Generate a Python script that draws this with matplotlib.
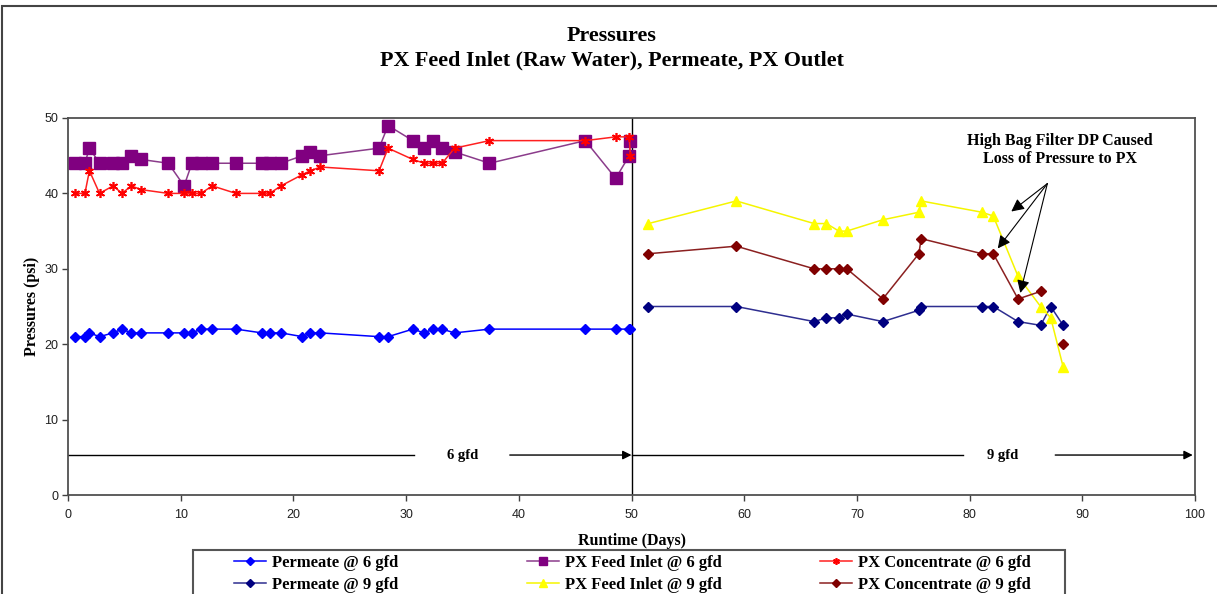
import numpy as np
import matplotlib
matplotlib.use("Agg")
import matplotlib.pyplot as plt
from matplotlib.patches import Rectangle

# ---------------- data ----------------
days_6 = [0.6, 1.5, 1.9, 2.8, 4.0, 4.8, 5.6, 6.5, 8.9, 10.3, 11.0, 11.8, 12.8, 14.9,
          17.2, 17.9, 18.9, 20.8, 21.5, 22.4, 27.6, 28.4, 30.6, 31.6, 32.4, 33.2,
          34.3, 37.4, 45.9, 48.6, 49.8, 49.9]
permeate_6 = [21, 21, 21.5, 21, 21.5, 22, 21.5, 21.5, 21.5, 21.5, 21.5, 22, 22, 22,
              21.5, 21.5, 21.5, 21, 21.5, 21.5, 21, 21, 22, 21.5, 22, 22,
              21.5, 22, 22, 22, 22, 22]
feed_6 = [44, 44, 46, 44, 44, 44, 45, 44.5, 44, 41, 44, 44, 44, 44,
          44, 44, 44, 45, 45.5, 45, 46, 49, 47, 46, 47, 46,
          45.5, 44, 47, 42, 45, 47]
conc_6 = [40, 40, 43, 40, 41, 40, 41, 40.5, 40, 40, 40, 40, 41, 40,
          40, 40, 41, 42.5, 43, 43.5, 43, 46, 44.5, 44, 44, 44,
          46, 47, 47, 47.5, 47.5, 45]

days_9 = [51.5, 59.3, 66.2, 67.3, 68.4, 69.1, 72.3, 75.5, 75.7, 81.1, 82.1,
          84.3, 86.3, 87.2, 88.3]
permeate_9 = [25, 25, 23, 23.5, 23.5, 24, 23, 24.5, 25, 25, 25, 23, 22.5, 25, 22.5]
feed_9 = [36, 39, 36, 36, 35, 35, 36.5, 37.5, 39, 37.5, 37, 29, 25, 23.5, 17]
conc_9 = [32, 33, 30, 30, 30, 30, 26, 32, 34, 32, 32, 26, 27, np.nan, 20]

series_labels = ["Permeate @ 6 gfd", "PX Feed Inlet @ 6 gfd", "PX Concentrate @ 6 gfd",
                 "Permeate @ 9 gfd", "PX Feed Inlet @ 9 gfd", "PX Concentrate @ 9 gfd"]

title_line1 = "Pressures"
title_line2 = "PX Feed Inlet (Raw Water), Permeate, PX Outlet"
note_text = "High Bag Filter DP Caused\nLoss of Pressure to PX"
note_origin = (86.9, 41.3)
note_targets = [(83.7, 37.6), (82.5, 32.7), (84.5, 26.8)]

# ---------------- style ----------------
SERIF = ["Liberation Serif", "DejaVu Serif"]
SANS = ["Liberation Sans", "DejaVu Sans"]

W, H = 1217, 594
fig = plt.figure(figsize=(W / 100, H / 100), dpi=100)
fig.patch.set_facecolor("white")

ax = fig.add_axes([68 / W, 1 - 495 / H, (1195 - 68) / W, (495 - 118) / H])

lw = 1.1
l_p6, = ax.plot(days_6, permeate_6, color="#0000FF", lw=lw, marker="D", ms=5, zorder=3)
l_f6, = ax.plot(days_6, feed_6, color="#8B3C8B", lw=lw, marker="s", ms=8.5,
                mfc="#800080", mec="#800080", zorder=3)
l_c6, = ax.plot(days_6, conc_6, color="#FF2020", lw=lw, marker=(6, 2, 0), ms=6.5,
                mec="#FF0000", mew=1.2, zorder=4)
l_p9, = ax.plot(days_9, permeate_9, color="#2E2E90", lw=lw, marker="D", ms=5,
                mfc="#000080", mec="#000080", zorder=3)
l_f9, = ax.plot(days_9, feed_9, color="#F5F500", lw=lw, marker="^", ms=7,
                mfc="#FFFF00", mec="#FFFF00", zorder=3)
l_c9, = ax.plot(days_9, conc_9, color="#8B2020", lw=lw, marker="D", ms=5,
                mfc="#800000", mec="#800000", zorder=3)

ax.set_xlim(0, 100)
ax.set_ylim(0, 50)
ax.set_xticks(np.arange(0, 101, 10))
ax.set_yticks(np.arange(0, 51, 10))
ax.tick_params(direction="out", length=4, width=1, colors="#404040",
               labelsize=9, labelcolor="#202020")
ax.tick_params(axis="x", pad=6)
ax.tick_params(axis="y", pad=3)
for lab in ax.get_xticklabels() + ax.get_yticklabels():
    lab.set_family(SANS)
for s in ax.spines.values():
    s.set_color("#505050")
    s.set_linewidth(1.3)

# divider at 50 days
ax.plot([50, 50], [0, 50], color="black", lw=1, zorder=2)

# gfd arrows
yarr = 5.3
arrow_kw = dict(arrowstyle="-|>", mutation_scale=13, color="black", lw=1,
                shrinkA=0, shrinkB=0)
ax.plot([0, 30.7], [yarr, yarr], color="black", lw=1)
ax.annotate("", xy=(50, yarr), xytext=(39.2, yarr), arrowprops=arrow_kw)
ax.text(35.0, yarr, "6 gfd", ha="center", va="center", fontsize=10.5,
        fontweight="bold", family=SERIF)
ax.plot([50, 79.4], [yarr, yarr], color="black", lw=1)
ax.annotate("", xy=(99.8, yarr), xytext=(87.6, yarr), arrowprops=arrow_kw)
ax.text(82.9, yarr, "9 gfd", ha="center", va="center", fontsize=10.5,
        fontweight="bold", family=SERIF)

# note with arrows
ax.text(88.0, 45.8, note_text, ha="center", va="center", fontsize=11.5,
        fontweight="bold", family=SERIF, linespacing=1.15)
for tgt in note_targets:
    ax.annotate("", xy=tgt, xytext=note_origin,
                arrowprops=dict(arrowstyle="-|>", mutation_scale=19, color="black",
                                lw=0.8, shrinkA=0, shrinkB=0))

ax.set_xlabel("Runtime (Days)", fontsize=11.5, fontweight="bold", family=SERIF)
ax.xaxis.set_label_coords(0.5, (495 - 533) / 377)
ax.set_ylabel("Pressures (psi)", fontsize=11.5, fontweight="bold", family=SERIF)
ax.yaxis.set_label_coords((40 - 68) / 1127, 0.5)

fig.text(612 / W, 1 - 36 / H, title_line1, ha="center", va="center",
         fontsize=15.8, fontweight="bold", family=SERIF)
fig.text(612 / W, 1 - 60 / H, title_line2, ha="center", va="center",
         fontsize=15.8, fontweight="bold", family=SERIF)

# outer chart border
fig.patches.append(Rectangle((2 / W, -0.1), 1.2, 1.1 - 6 / H, transform=fig.transFigure,
                             fill=False, ec="#444444", lw=1.5))
# legend box
fig.patches.append(Rectangle((193 / W, -0.1), (1065 - 193) / W, 0.1 + (594 - 550) / H,
                             transform=fig.transFigure, fill=False, ec="#555555", lw=1.5))

leg_cols = [([l_p6, l_p9], [series_labels[0], series_labels[3]], 234),
            ([l_f6, l_f9], [series_labels[1], series_labels[4]], 527),
            ([l_c6, l_c9], [series_labels[2], series_labels[5]], 820)]
for hs, labs, xpx in leg_cols:
    fig.legend(hs, labs, ncol=1, loc="upper left", bbox_to_anchor=(xpx / W, 1 - 555 / H),
               frameon=False, prop=dict(family=SERIF, weight="bold", size=12),
               handlelength=1.92, handletextpad=0.36, labelspacing=0.34,
               borderaxespad=0, borderpad=0, markerscale=0.75)

fig.savefig("out.png", dpi=100)
